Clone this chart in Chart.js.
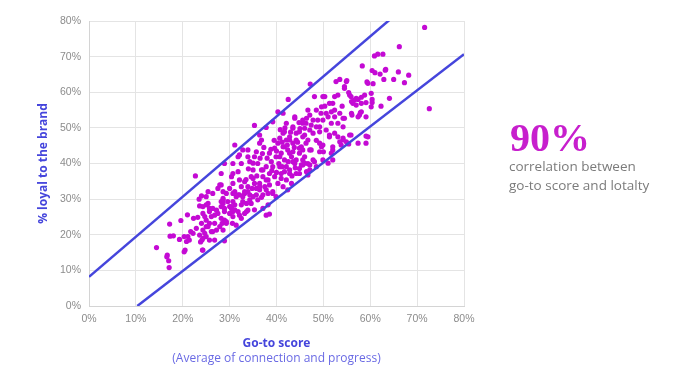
<!DOCTYPE html>
<html>
<head>
<meta charset="utf-8">
<script src="https://cdn.jsdelivr.net/npm/chart.js@4.4.1/dist/chart.umd.min.js"></script>
<style>
  html, body { margin: 0; padding: 0; background: #fff; }
  #wrap { width: 680px; height: 381px; }
</style>
</head>
<body>
<div id="wrap"><canvas id="chart" width="680" height="381"></canvas></div>
<script>
// go-to score (x) and % loyal (y) per respondent
const goToScore = [
  14.4,16.7,17.0,17.1,16.6,17.2,17.3,18.0,19.3,19.6, 20.3,20.8,20.5,20.3,21.1,21.4,21.0,21.7,22.3,23.2,
  23.5,24.0,23.6,24.3,24.3,24.0,24.3,24.7,23.6,24.1, 24.3,23.8,25.0,25.4,25.0,25.7,25.4,25.0,25.7,26.1,
  26.4,26.8,27.2,27.5,28.2,28.6,28.9,28.9,28.4,27.9, 29.3,28.2,28.9,30.4,30.7,31.1,30.7,30.6,31.4,32.1,
  32.5,33.2,33.9,33.6,34.6,33.2,34.3,22.7,22.2,22.9, 25.7,26.8,24.3,27.2,28.6,28.2,27.5,31.1,31.8,32.8,
  33.9,34.3,35.7,36.4,37.5,38.2,32.5,33.2,35.3,25.4, 25.0,25.7,26.4,26.8,28.6,28.9,30.0,28.2,30.0,30.7,
  31.8,32.5,31.4,29.3,24.7,25.0,26.1,28.6,30.0,24.2, 37.8,38.5,42.4,
  31.1,28.9,30.7,32.1,32.8,32.5,30.4,31.8,32.1,30.7, 29.3,30.7,28.6,29.6,30.4,31.1,32.8,33.2,33.9,34.6,
  35.0,34.3,35.3,35.7,36.4,36.8,33.9,36.0,36.8,37.1, 36.4,35.7,35.0,36.0,37.1,37.8,38.5,38.2,38.5,37.8,
  38.9,38.5,39.6,40.3,40.7,41.4,42.1,42.8,43.5,44.2, 45.6,46.3,47.1,47.8,39.9,41.0,41.7,42.4,43.2,43.9,
  44.9,45.6,46.7,40.7,41.7,42.8,39.6,40.3,41.0,42.1, 43.2,39.2,39.9,38.2,37.1,35.3,33.6,32.1,44.2,44.9,
  47.1,48.1,
  35.3,36.4,37.8,39.2,40.3,41.4,42.5,43.9,43.5,44.9, 45.6,46.4,47.2,48.1,49.6,50.3,52.0,31.8,33.9,35.0,
  30.7,27.9,28.2,26.4,37.1,37.8,36.4,39.2,40.7, 41.7,42.8,43.5,42.1,41.0,42.8,44.2,45.3,46.7,
  49.2,51.0,52.4,49.2,51.3,52.0,51.0,48.5,44.9,41.4, 39.2,52.0,
  49.9,50.3,51.3,52.4,53.1,54.5,55.6,56.0,57.0,58.1, 59.5,60.2,59.1,60.2,52.7,54.9,48.5,49.5,46.7,47.1,
  47.8,48.8,50.6,51.7,52.4,53.5,54.2,56.0,57.7,58.1, 53.1,54.2,51.7,49.9,43.9,45.6,46.3,47.4,46.0,47.1,
  48.5,49.2,50.6,51.3,52.4,53.1,54.2,55.6,57.4,59.1, 59.5,54.9,53.8,52.0,49.9,49.2,47.4,47.8,46.0,44.9,
  44.2,41.7,43.5,42.1,41.4,42.8,43.5,45.3,49.9,51.7, 41.2,
  71.6,66.2,60.9,61.6,62.7,58.3,60.4,61.0,62.1,63.2, 66.0,68.2,62.9,65.0,67.3,59.3,60.6,55.0,53.5,54.5,
  55.4,55.9,56.6,57.4,58.8,58.1,60.4,60.4,57.0,56.3, 64.1,62.3,72.6,54.0,57.9,56.1,57.4,59.1,54.5,63.3,
  55.4,59.1,55.9,54.2,46.0,46.4,46.7,53.5, 45.6,45.6,47.1,49.6,50.0,
  38.0,38.8,39.5,40.0,40.5,41.2,41.8,42.3,43.0,43.8, 44.5,45.0,44.0,42.5,40.0,39.0,36.5,37.3,35.8,34.0,
  33.5,35.0,36.8,34.8,37.0,43.3,46.0,48.5,44.8,40.8
];
const loyalty = [
  16.4,14.3,12.7,10.8,13.8,23.0,19.6,19.7,18.7,24.0, 19.5,18.1,15.7,15.2,19.5,18.5,25.6,20.9,24.6,24.9,
  30.0,30.9,28.1,27.9,26.0,23.2,21.3,20.4,19.9,18.5, 15.7,18.0,24.1,22.3,19.5,23.2,28.8,30.7,27.4,25.1,
  20.9,23.2,26.9,26.0,29.3,30.2,24.1,18.3,23.2,22.3, 23.2,27.9,26.5,27.4,26.5,28.4,29.3,23.2,30.7,31.2,
  28.4,26.0,26.9,28.8,28.8,31.6,31.2,36.5,20.4,21.8, 18.5,18.5,19.0,21.3,21.3,34.0,33.0,32.1,31.2,30.7,
  32.1,29.8,31.2,32.6,33.5,31.6,33.5,34.9,34.4,32.1, 28.4,26.5,27.4,25.5,28.8,27.4,27.9,24.6,26.0,25.1,
  26.5,24.6,22.7,23.7,25.1,22.3,20.9,32.1,33.0,15.7, 25.5,25.8,32.6,
  45.2,40.0,40.0,42.4,43.8,40.0,36.3,37.7,35.4,34.4, 31.6,31.6,29.8,29.3,27.9,27.0,29.3,32.1,33.5,36.3,
  38.2,40.5,41.9,43.3,45.7,46.6,43.8,40.0,38.2,36.3, 34.4,33.0,30.7,29.8,31.2,32.6,34.0,35.4,37.2,39.1,
  40.5,42.9,44.3,45.7,47.1,48.5,46.6,47.5,45.7,48.5, 47.5,45.7,43.8,48.5,41.9,42.9,41.0,43.8,41.9,40.0,
  42.9,41.0,40.0,39.1,37.7,37.2,36.3,34.4,35.8,35.4, 34.4,32.1,30.7,28.4,27.4,27.0,26.5,25.5,37.2,38.6,
  38.2,40.5,
  50.7,48.0,50.1,51.7,54.5,54.1,58.0,53.1,50.3,48.9, 51.3,52.7,62.3,58.8,55.9,58.8,56.9,41.9,41.9,40.1,
  37.2,34.0,37.2,31.6,38.2,35.4,33.5,39.1,41.9, 44.7,46.6,43.3,39.1,37.2,38.2,41.0,44.7,46.6,
  50.3,53.1,55.0,45.7,47.5,43.8,40.1,39.1,37.2,33.5, 31.6,41.0,
  58.8,56.1,56.9,58.8,59.2,61.6,59.2,57.4,58.3,56.9, 62.5,59.7,57.1,55.9,63.0,63.0,55.0,54.1,55.0,53.6,
  52.2,52.2,54.1,54.5,53.1,54.1,52.7,54.1,53.6,54.5, 51.3,50.3,51.3,52.2,52.7,52.2,51.3,50.8,49.9,49.4,
  50.3,48.9,49.4,48.0,48.5,47.5,47.1,48.0,45.7,45.7, 47.5,46.1,45.2,44.7,45.2,43.3,43.8,41.0,41.9,44.3,
  46.6,48.9,49.9,51.3,44.7,42.9,40.5,39.6,41.0,42.9, 39.1,
  78.2,72.8,70.2,70.7,70.7,67.4,66.1,65.5,65.1,66.2, 65.7,64.8,63.6,63.6,62.7,62.9,62.4,63.3,63.6,61.1,
  59.9,58.8,57.8,58.0,59.2,58.6,58.0,57.1,56.4,56.9, 58.3,56.1,55.4,56.1,54.3,53.6,53.1,53.1,52.7,66.4,
  45.5,47.7,48.0,46.6,40.1,37.7,36.8,46.1, 43.8,39.6,39.6,44.7,43.3,
  41.5,44.0,46.5,43.5,40.0,46.0,50.0,45.2,48.8,44.5, 46.0,49.8,38.8,40.5,37.5,38.0,41.5,44.5,36.5,38.5,
  35.5,35.8,30.5,33.0,42.8,36.5,48.0,46.5,51.5,49.5
];

// boundary lines of the band
const upperLineX = [0, 64.1];
const upperLineY = [8.2, 80.3];
const lowerLineX = [10.3, 80];
const lowerLineY = [0, 70.7];

const axisTicks = [0, 10, 20, 30, 40, 50, 60, 70, 80];

const BLUE = '#4545dc';
const MAGENTA = '#c40ad4';

const toPoints = (xs, ys) => xs.map((x, i) => ({ x, y: ys[i] }));

const sideText = {
  id: 'sideText',
  afterDraw(chart) {
    const ctx = chart.ctx;
    const area = chart.chartArea;
    ctx.save();
    ctx.textAlign = 'center';
    ctx.textBaseline = 'middle';
    ctx.fillStyle = '#6a6ae4';
    ctx.font = '12px "Open Sans"';
    ctx.fillText('(Average of connection and progress)', (area.left + area.right) / 2, 359);

    ctx.textAlign = 'left';
    ctx.textBaseline = 'alphabetic';
    ctx.fillStyle = '#c71fcd';
    ctx.font = 'bold 40px "Liberation Serif"';
    ctx.fillText('90%', 510, 151);
    ctx.fillStyle = '#7b7b7b';
    ctx.font = '13.5px "Open Sans"';
    ctx.fillText('correlation between', 509, 171);
    ctx.fillText('go-to score and lotalty', 509, 190);
    ctx.restore();
  }
};

const tickOpts = {
  color: '#8c8c8c',
  font: { family: '"Liberation Sans", Arial', size: 10.5 },
  callback: v => v + '%'
};

new Chart(document.getElementById('chart'), {
  type: 'scatter',
  data: {
    datasets: [
      { type: 'line', data: toPoints(upperLineX, upperLineY), borderColor: BLUE, borderWidth: 2.5, pointRadius: 0, fill: false },
      { type: 'line', data: toPoints(lowerLineX, lowerLineY), borderColor: BLUE, borderWidth: 2.5, pointRadius: 0, fill: false },
      { data: toPoints(goToScore, loyalty), backgroundColor: MAGENTA, borderWidth: 0, pointRadius: 2.6 }
    ]
  },
  options: {
    responsive: false,
    animation: false,
    layout: { padding: { left: 0, top: 21, right: 216, bottom: 0 } },
    plugins: { legend: { display: false }, tooltip: { enabled: false } },
    scales: {
      x: {
        type: 'linear', min: 0, max: 80,
        afterBuildTicks: s => { s.ticks = axisTicks.map(v => ({ value: v })); },
        afterFit: s => { s.height = 75; },
        grid: { color: '#e4e4e4', drawTicks: false },
        border: { color: '#d4d4d4' },
        ticks: { ...tickOpts, padding: 7 },
        title: {
          display: true, text: 'Go-to score', color: BLUE,
          font: { family: '"Open Sans"', size: 12, weight: 'bold' },
          padding: { top: 0, bottom: 29.8 }
        }
      },
      y: {
        type: 'linear', min: 0, max: 80,
        afterBuildTicks: s => { s.ticks = axisTicks.map(v => ({ value: v })); },
        afterFit: s => { s.width = 89; },
        grid: { color: '#e4e4e4', drawTicks: false },
        border: { color: '#d4d4d4' },
        ticks: { ...tickOpts, padding: 8 },
        title: {
          display: true, text: '% loyal to the brand', color: BLUE,
          font: { family: '"Open Sans"', size: 12, weight: 'bold' },
          padding: { top: 36.8, bottom: 0 }
        }
      }
    }
  },
  plugins: [sideText]
});
</script>
</body>
</html>
